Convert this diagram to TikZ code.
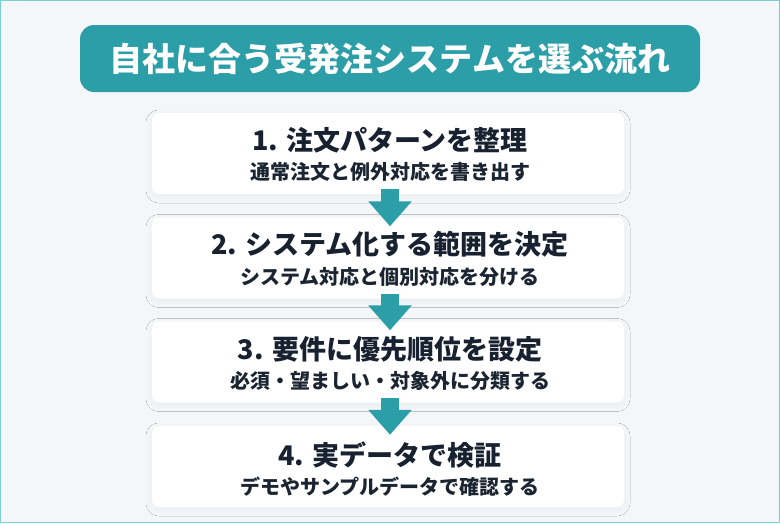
\documentclass[tikz,border=0pt]{standalone}
\usepackage{fontspec}
\setmainfont{Noto Sans CJK JP}
\usetikzlibrary{arrows.meta,calc,shadows.blur}
\definecolor{bgc}{HTML}{F3F7FA}
\definecolor{teal}{HTML}{2B9EA8}
\definecolor{frame}{HTML}{7ACFD0}
\definecolor{ink}{HTML}{17212F}
\definecolor{subink}{HTML}{1B2431}
\tikzset{
  titlebox/.style={fill=teal, rounded corners=14pt, minimum width=620pt, minimum height=67pt, inner sep=0pt,
    text=white, font=\fontsize{33}{38}\selectfont\bfseries},
  stepbox/.style={fill=white, rounded corners=7pt, minimum width=472pt, minimum height=81pt, inner sep=0pt,
    blur shadow={shadow xshift=0pt, shadow yshift=-3pt, shadow blur radius=6pt, shadow blur steps=12, shadow opacity=4}},
  steptitle/.style={text=ink, font=\fontsize{27}{30}\selectfont\bfseries, inner sep=0pt},
  stepsub/.style={text=subink, font=\fontsize{20}{23}\selectfont\bfseries, inner sep=0pt},
  flow/.style={draw=teal, line width=18pt, -{Triangle[width=42pt,length=25pt]}, shorten >=0pt},
}
\begin{document}
\begin{tikzpicture}[x=1pt,y=-1pt]
\useasboundingbox (0,0) rectangle (780,523);
\fill[bgc] (0,0) rectangle (780,523);
\draw[frame, line width=1.2pt] (0.6,0.6) rectangle (779.4,522.4);

\node[titlebox] (title) at (390,58.5) {自社に合う受発注システムを選ぶ流れ};

\node[stepbox] (b1) at (388,153.5) {};
\node[stepbox] (b2) at (388,258) {};
\node[stepbox] (b3) at (388,362) {};
\node[stepbox] (b4) at (388,466.5) {};

\node[steptitle] (t1) at (390,140) {1. 注文パターンを整理};
\node[stepsub] (s1) at (390,172) {通常注文と例外対応を書き出す};
\node[steptitle] (t2) at (390,244.5) {2. システム化する範囲を決定};
\node[stepsub] (s2) at (390,276.5) {システム対応と個別対応を分ける};
\node[steptitle] (t3) at (390,349.5) {3. 要件に優先順位を設定};
\node[stepsub] (s3) at (390,381) {必須・望ましい・対象外に分類する};
\node[steptitle] (t4) at (390,455) {4. 実データで検証};
\node[stepsub] (s4) at (390,487) {デモやサンプルデータで確認する};

\coordinate (a1s) at ($(b1.south)+(2,-5)$);
\coordinate (a1e) at ($(b2.north)+(2,9)$);
\coordinate (a2s) at ($(b2.south)+(2,-5)$);
\coordinate (a2e) at ($(b3.north)+(2,9)$);
\coordinate (a3s) at ($(b3.south)+(2,-5)$);
\coordinate (a3e) at ($(b4.north)+(2,9)$);
\draw[flow] (a1s) -- (a1e);
\draw[flow] (a2s) -- (a2e);
\draw[flow] (a3s) -- (a3e);
\end{tikzpicture}
\end{document}
